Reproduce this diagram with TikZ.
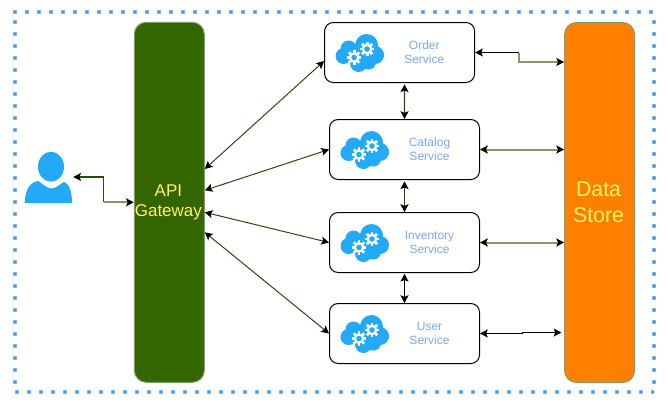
\documentclass[tikz,border=0pt]{standalone}
\usepackage{fontspec}
\setmainfont{Liberation Sans}
\usetikzlibrary{arrows.meta}
\definecolor{frameout}{HTML}{86B0FF}
\definecolor{framein}{HTML}{2F9BF0}
\definecolor{apifill}{HTML}{336600}
\definecolor{edgegreen}{HTML}{82996A}
\definecolor{storefill}{HTML}{FF8000}
\definecolor{iconblue}{HTML}{22A9F8}
\definecolor{svctext}{HTML}{7EA6F8}
\definecolor{bigtext}{HTML}{FFF266}
\definecolor{wiredark}{HTML}{2B4A10}
\tikzset{
  x=0.75pt,y=-0.75pt,
  >={Stealth[length=5.8pt,width=6pt,inset=1.2pt,color=black]},
  pillar/.style={draw=edgegreen,line width=0.75pt,rounded corners=9pt,minimum width=52.5pt,minimum height=270pt,inner sep=0pt,align=center},
  svcbox/.style={draw=black,fill=white,line width=0.75pt,rounded corners=6.5pt,minimum width=112.5pt,minimum height=45pt,inner sep=0pt},
  svclabel/.style={text=svctext,font=\fontsize{9}{10.5}\selectfont,align=center,inner sep=0pt},
  wire/.style={line width=0.7pt,draw=black},
  diagwire/.style={line width=0.75pt,draw=wiredark},
  darkwire/.style={line width=0.8pt,draw=wiredark},
  fatwire/.style={line width=1.5pt,draw=edgegreen},
  framedash/.style={line width=3pt,dash pattern=on 3pt off 6pt},
  tooth/.style={fill=white,draw=none},
  gear/.pic={
    \fill[white] (0,0) circle (5.3);
    \foreach \a in {0,45,...,315}{\fill[tooth,rotate=\a] (-1.4,-7.3) rectangle (1.4,-3);}
    \fill[iconblue] (0,0) circle (2.8);
  },
  cloudicon/.pic={
    \fill[iconblue] (-11,-4) circle (8) (-16,3.5) circle (8) (7,-7) circle (11.5)
      (15.5,2.5) circle (9) (-1,11) circle (8.5) (9,9.5) circle (7.5) (0,2) circle (12);
    \pic at (-5.5,5) {gear};
    \pic at (7.5,-3.5) {gear};
  }
}
\newcommand{\frameline}[2]{%
  \draw[framedash,draw=frameout] #1 -- #2;
  \draw[line width=1.5pt,dash pattern=on 1.5pt off 7.5pt,dash phase=-0.75pt,draw=framein] #1 -- #2;}
\begin{document}
\begin{tikzpicture}
\useasboundingbox (0,0) rectangle (667,404);
\fill[white] (0,0) rectangle (667,404);
% frame
\frameline{(12.5,12)}{(654,12)}
\frameline{(14.5,20.3)}{(14.5,392)}
\frameline{(14.5,392)}{(654,392)}
\frameline{(654,20.3)}{(654,392)}
% pillars
\node[pillar,fill=apifill,text=bigtext,font=\fontsize{12.75}{15}\selectfont] (api) at (169.3,202.3) {\hspace*{-1.4pt}API\\\hspace*{-1.4pt}Gateway};
\node[pillar,fill=storefill,text=bigtext,font=\fontsize{16}{19.5}\selectfont] (store) at (599.6,202.5) {\hspace*{-1.6pt}Data\\\hspace*{-1.6pt}Store};
% user
\node[minimum width=36.75pt,minimum height=38pt,inner sep=0pt] (user) at (48.5,177) {};
\fill[iconblue] (51,166.7) ellipse (13 and 15);
\fill[iconblue] (24.7,202.8) .. controls (25,190) and (30,182) .. (38,181)
  .. controls (42,183) and (46,188.3) .. (51.5,188.5)
  .. controls (57,188) and (60,184) .. (64,182)
  .. controls (70,184) and (72,194) .. (72,202.8) -- cycle;
% services
\node[svcbox] (order) at (399.6,52.5) {};
\node[svcbox] (catalog) at (404.5,149.5) {};
\node[svcbox] (inventory) at (404.5,242.5) {};
\node[svcbox] (usersvc) at (404.5,333.5) {};
\pic at (359.6,52.5) {cloudicon};
\pic at (364.5,149.5) {cloudicon};
\pic at (364.5,242.5) {cloudicon};
\pic at (364.5,333.5) {cloudicon};
\node[svclabel] (ordert) at (424.3,52.5) {Order\\Service};
\node[svclabel] (catalogt) at (429.5,149.5) {Catalog\\Service};
\node[svclabel] (inventoryt) at (429.5,242.5) {Inventory\\Service};
\node[svclabel] (usert) at (429.5,333.5) {User\\Service};
% user -- api
\coordinate (ua) at (103.5,177);
\coordinate (ub) at (103.5,202.3);
\draw[darkwire,<-] (user.east) -- (ua) -- (ub);
\draw[fatwire,->] (ub) -- (api.west);
% api -- services
\draw[diagwire,<->] ([yshift=25pt]api.east) -- ([yshift=-6.4pt]order.west);
\draw[diagwire,<->] ([yshift=9pt]api.east) -- (catalog.west);
\draw[diagwire,<->] ([yshift=-7.5pt]api.east) -- (inventory.west);
\draw[diagwire,<->] ([yshift=-22.5pt]api.east) -- (usersvc.west);
% service -- service
\draw[darkwire,<->,shorten <=1pt] ([xshift=3.7pt]order.south) -- (catalog.north);
\draw[darkwire,<->,shorten <=1pt] (catalog.south) -- (inventory.north);
\draw[wire,line width=0.8pt,<->,shorten <=0.6pt] (inventory.south) -- (usersvc.north);
% services -- store
\coordinate (oa) at (519,52.5);
\coordinate (ob) at (519,62);
\draw[wire,<-] (order.east) -- (oa);
\draw[fatwire,->] (oa) -- (ob) -- (store.west |- ob);
\draw[fatwire,<->] (catalog.east) -- (store.west |- catalog.east);
\draw[fatwire,<->] (inventory.east) -- (store.west |- inventory.east);
\coordinate (ua2) at (522,333.5);
\coordinate (ua3) at (522,332.5);
\draw[wire,<-] (usersvc.east) -- (ua2);
\draw[wire,->,shorten >=2pt] (ua2) -- (ua3) -- (store.west |- ua3);
\end{tikzpicture}
\end{document}
